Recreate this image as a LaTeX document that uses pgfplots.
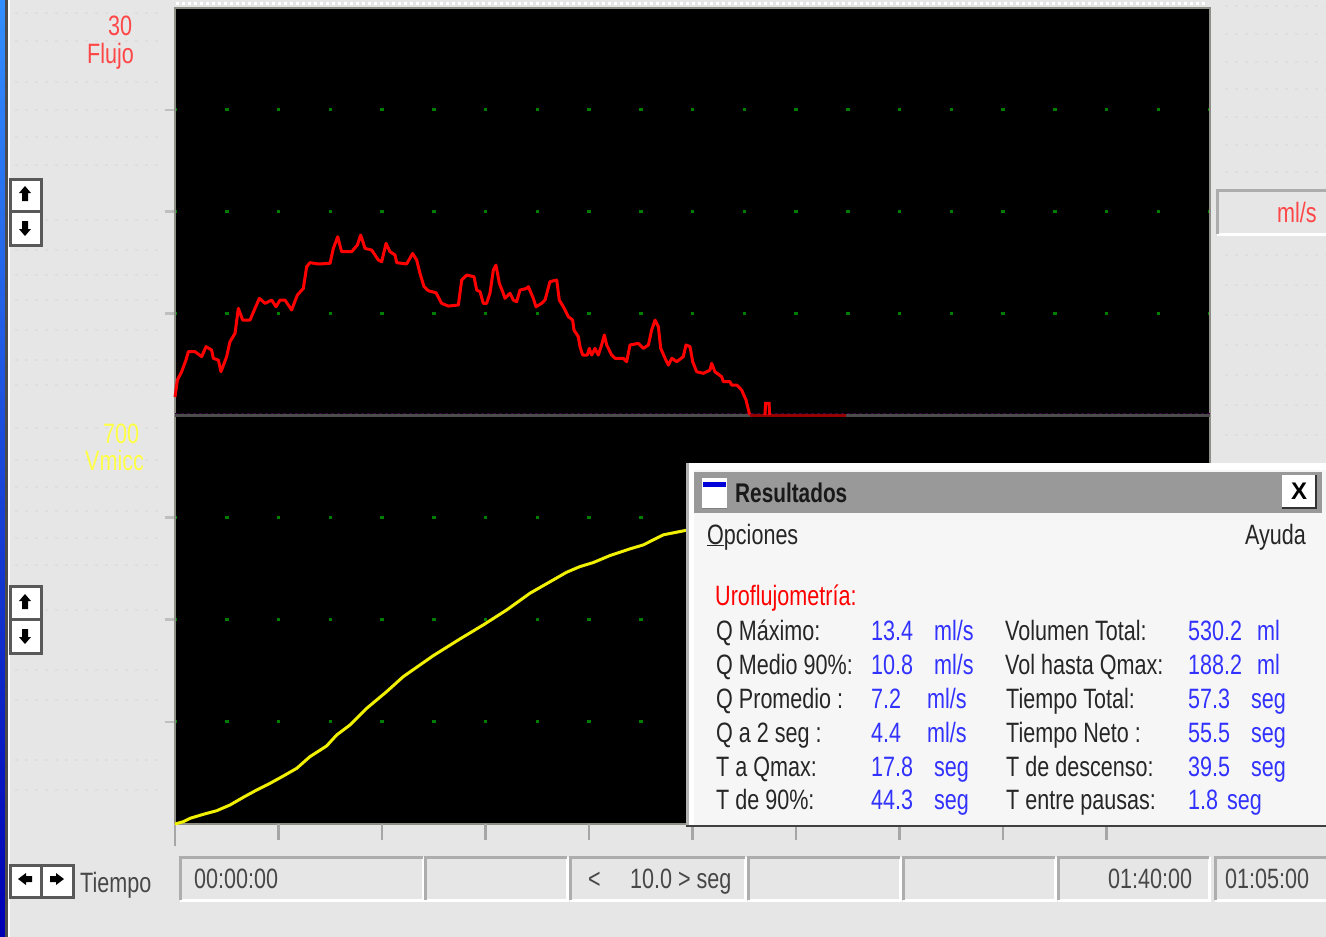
\documentclass[border=0pt]{standalone}
\usepackage{fontspec}
\usepackage{pgfplots}
\pgfplotsset{compat=1.18}
\setmainfont{Liberation Sans}
\newfontfamily\nar[FakeStretch=0.77]{Liberation Sans}
\definecolor{bg}{HTML}{E6E6E6}
\definecolor{fr}{HTML}{8E8E86}
\definecolor{dotg}{RGB}{0,125,0}
\definecolor{lblred}{RGB}{255,70,70}
\definecolor{lblyel}{RGB}{255,255,70}
\definecolor{valblue}{RGB}{50,50,255}
\definecolor{txtg}{gray}{0.28}
\definecolor{dlg}{gray}{0.965}
\newcommand{\T}[4]{\node[anchor=base west,inner sep=0pt,text=#3] at (#1pt,-#2pt) {\nar\fontsize{28}{28}\selectfont #4};}
\newcommand{\BTN}[4]{\fill[white] (#1pt,-#2pt) rectangle (#3pt,-#4pt);
 \draw[line width=3pt,color=black!65] (#1pt,-#2pt) rectangle (#3pt,-#4pt);}
\newcommand{\UP}[2]{\fill[black] (#1pt-6pt,-#2pt+1pt) -- (#1pt,-#2pt+8pt) -- (#1pt+6pt,-#2pt+1pt) -- (#1pt+3pt,-#2pt+1pt) -- (#1pt+3pt,-#2pt-7pt) -- (#1pt-3pt,-#2pt-7pt) -- (#1pt-3pt,-#2pt+1pt) -- cycle;}
\newcommand{\DN}[2]{\fill[black] (#1pt-6pt,-#2pt-1pt) -- (#1pt,-#2pt-8pt) -- (#1pt+6pt,-#2pt-1pt) -- (#1pt+3pt,-#2pt-1pt) -- (#1pt+3pt,-#2pt+7pt) -- (#1pt-3pt,-#2pt+7pt) -- (#1pt-3pt,-#2pt-1pt) -- cycle;}
\newcommand{\LF}[2]{\fill[black] (#1pt+1pt,-#2pt-6pt) -- (#1pt-7pt,-#2pt) -- (#1pt+1pt,-#2pt+6pt) -- (#1pt+1pt,-#2pt+3pt) -- (#1pt+7pt,-#2pt+3pt) -- (#1pt+7pt,-#2pt-3pt) -- (#1pt+1pt,-#2pt-3pt) -- cycle;}
\newcommand{\RT}[2]{\fill[black] (#1pt-1pt,-#2pt-6pt) -- (#1pt+7pt,-#2pt) -- (#1pt-1pt,-#2pt+6pt) -- (#1pt-1pt,-#2pt+3pt) -- (#1pt-7pt,-#2pt+3pt) -- (#1pt-7pt,-#2pt-3pt) -- (#1pt-1pt,-#2pt-3pt) -- cycle;}
\newcommand{\SUNK}[4]{\draw[line width=3pt,color=white] (#1pt,-#4pt) -- (#3pt,-#4pt) -- (#3pt,-#2pt);
 \draw[line width=3pt,color=black!32] (#1pt,-#4pt) -- (#1pt,-#2pt) -- (#3pt,-#2pt);}
\begin{document}
\begin{tikzpicture}
\useasboundingbox (0pt,-937pt) rectangle (1326pt,0pt);
% window background
\fill[bg] (0pt,-937pt) rectangle (1326pt,0pt);
% faint raster rows of the screen capture
\foreach \yy in {13,41,82,110,137,165,220,250,275,300,330,360,385,428,460,487,511,538,565,610,670,700,760,790}{
  \draw[color=black!13,line width=2pt,dash pattern=on 3pt off 7pt] (15pt,-\yy pt) -- (160pt,-\yy pt);}
\foreach \yy in {6,34,62,89,117,145,172,255,285,315,345,375,405,435}{
  \draw[color=black!13,line width=2pt,dash pattern=on 3pt off 7pt] (1225pt,-\yy pt) -- (1326pt,-\yy pt);}
\shade[top color=blue!55!cyan!80!white, bottom color=blue!70!black] (0pt,-937pt) rectangle (5pt,0pt);
\fill[black!70] (5pt,-937pt) rectangle (8pt,0pt);
\fill[white] (8pt,-937pt) rectangle (10pt,0pt);
\draw[white,line width=3pt,dash pattern=on 3pt off 3pt] (176pt,-3pt) -- (1208pt,-3pt);
% volume panel
\begin{axis}[at={(175pt,-824pt)},anchor=south west,scale only axis,width=1035pt,height=409pt,
  xmin=0,xmax=100,ymin=0,ymax=700,clip=false,
  axis background/.style={fill=black},
  axis line style={color=fr,line width=2.5pt},
  xtick=\empty,
  extra x ticks={0,10,...,90},extra x tick labels={},
  extra x tick style={major tick length=16pt,tick style={color=black!35,line width=2.5pt},grid=none},
  xtick pos=bottom,ytick pos=left,
  ytick={175,350,525},yticklabels={},
  tick align=outside,
  major tick length=10pt,
  tick style={color=black!25,line width=2.5pt},
  ymajorgrids,
  grid style={color=dotg,line width=3pt,dash pattern=on 3.5pt off 48.25pt,dash phase=1.75pt},
]
\addplot[color={rgb,255:red,240;green,240;blue,0},line width=3pt,line join=round] coordinates {
(0,0)(0.81,4)(1.45,9.7)(2.74,16.6)(4.03,22.8)(5.31,32.5)(6.6,45.7)(7.89,58.2)(9.18,69.6)(10.47,82.2)
(11.76,95.3)(13.04,115.3)(14.65,133.6)(15.62,152.4)(16.91,169.5)(18.52,198)(20.45,226.6)(22.06,252.3)
(24.96,288.2)(27.54,316.8)(29.79,340.8)(32.05,366.4)(34.3,395)(36.55,417.8)(37.84,430.9)(39.13,440.6)
(40.42,447.5)(42.03,459.5)(43.96,470.9)(45.25,477.7)(47.18,494.9)(49.28,502.3)(53,518)(57.3,530.2)(64.8,530.2)};
\end{axis}
\draw[color=black!35,line width=2.5pt] (175pt,-838pt) -- (175pt,-846pt);
% flow panel
\begin{axis}[at={(175pt,-415pt)},anchor=south west,scale only axis,width=1035pt,height=407pt,
  xmin=0,xmax=100,ymin=0,ymax=30,clip=false,
  axis background/.style={fill=black},
  axis line style={color=fr,line width=2.5pt},
  xtick=\empty,
  ytick pos=left,
  ytick={7.5,15,22.5},yticklabels={},
  tick align=outside,
  major tick length=10pt,
  tick style={color=black!25,line width=2.5pt},
  ymajorgrids,
  grid style={color=dotg,line width=3pt,dash pattern=on 3.5pt off 48.25pt,dash phase=1.75pt},
]
\addplot[color=black!70,line width=2.5pt] coordinates {(0,-0.05)(100,-0.05)};
\addplot[color={rgb,255:red,60;green,0;blue,70},line width=1.5pt,dash pattern=on 3pt off 3pt] coordinates {(0,0.1)(100,0.1)};
\addplot[color=red,line width=3pt,line join=round] coordinates {
(0,1.33)(0.23,2.58)(0.64,3.19)(1.06,4.05)(1.29,4.67)(1.93,4.67)(2.58,4.30)(3.0,5.04)(3.54,4.79)(3.70,4.18)
(4.19,4.05)(4.44,3.19)(4.99,4.30)(5.31,5.40)(5.80,6.02)(6.12,7.86)(6.54,7.0)(7.25,7.0)(7.73,7.86)(8.15,8.60)
(8.70,8.23)(9.34,8.47)(9.76,7.98)(10.14,8.47)(10.63,8.47)(11.27,7.74)(11.82,8.84)(12.40,9.33)(12.72,10.93)
(13.04,11.23)(13.85,11.13)(14.98,11.18)(15.30,12.28)(15.72,13.14)(16.10,12.04)(17.07,12.04)(17.62,12.53)
(17.94,13.26)(18.36,12.28)(19.0,12.16)(19.65,11.42)(19.97,11.30)(20.39,12.65)(20.77,12.04)(21.26,11.79)
(21.42,11.23)(22.38,11.13)(22.96,11.91)(23.35,11.42)(23.67,10.44)(24.06,9.46)(24.48,9.16)(25.22,9.01)
(25.76,8.23)(26.41,8.03)(27.38,8.11)(27.70,9.95)(28.18,10.32)(28.89,10.19)(29.15,9.21)(29.47,9.09)
(29.79,8.23)(30.11,8.23)(30.43,8.97)(30.76,10.69)(31.01,11.05)(31.34,9.70)(31.66,9.09)(31.88,8.60)
(32.37,8.97)(32.69,8.47)(33.01,8.35)(33.33,9.21)(33.98,9.33)(34.14,9.46)(34.62,8.60)(34.88,7.98)
(35.43,8.23)(35.75,8.47)(36.23,9.83)(36.88,9.95)(37.13,8.47)(37.52,7.98)(38.0,7.25)(38.42,7.0)(38.55,6.26)
(38.97,5.77)(39.13,5.04)(39.39,4.42)(39.84,4.42)(40.03,4.91)(40.26,4.42)(40.58,4.91)(40.90,4.42)(41.22,5.16)
(41.48,5.90)(41.71,5.16)(42.19,4.42)(42.51,4.18)(43.32,4.18)(43.64,3.93)(43.96,5.16)(44.77,5.28)(45.25,4.91)
(45.74,5.16)(46.05,6.26)(46.38,7.0)(46.70,6.51)(46.93,4.91)(47.35,4.18)(47.67,3.68)(48.0,4.18)(48.48,3.93)
(49.11,4.30)(49.37,5.16)(49.76,5.04)(50.02,3.93)(50.40,3.19)(51.05,3.07)(51.69,3.31)(51.85,3.81)(52.17,3.19)
(52.82,2.82)(52.98,2.46)(53.62,2.46)(53.78,2.21)(54.27,2.21)(54.75,1.84)(55.17,1.11)(55.49,0.12)(55.56,0)};
\addplot[color={rgb,255:red,150;green,0;blue,0},line width=3pt] coordinates {(55.56,0)(57.0,0)(57.45,0)(64.83,0)};
\addplot[color=red,line width=3pt] coordinates {(57.0,0)(57.06,0.85)(57.4,0.85)(57.45,0)};
\end{axis}
% axis labels left
\T{108}{35}{lblred}{30}
\T{87}{63}{lblred}{Flujo}
\T{103}{443}{lblyel}{700}
\T{85}{470}{lblyel}{Vmicc}
% spin buttons
\BTN{10}{179}{41}{211}\BTN{10}{211}{41}{245}
\UP{25}{194}\DN{25}{228}
\BTN{10}{586}{41}{619}\BTN{10}{619}{41}{653}
\UP{25}{602}\DN{25}{636}
% ml/s box
\SUNK{1217}{190}{1328}{234}
\T{1277}{222}{lblred}{ml/s}
% bottom strip
\BTN{10}{865}{41}{897}\BTN{41}{865}{73}{897}
\LF{25}{879}\RT{57}{879}
\T{80}{892}{txtg}{Tiempo}
\SUNK{180}{857}{423}{900}
\SUNK{425}{857}{567}{900}
\SUNK{570}{857}{745}{900}
\SUNK{748}{857}{900}{900}
\SUNK{903}{857}{1055}{900}
\SUNK{1058}{857}{1209}{900}
\SUNK{1215}{857}{1328}{900}
\T{194}{888}{txtg}{00:00:00}
\T{588}{888}{txtg}{<}
\T{630}{888}{txtg}{10.0 > seg}
\T{1108}{888}{txtg}{01:40:00}
\T{1225}{888}{txtg}{01:05:00}
% results dialog
\fill[dlg] (686pt,-826pt) rectangle (1326pt,-463pt);
\fill[black!75] (686pt,-827pt) rectangle (1326pt,-824.5pt);
\fill[black!30] (686pt,-825pt) rectangle (688.5pt,-463pt);
\fill[white] (688.5pt,-470pt) rectangle (1326pt,-463pt);
\fill[white] (688.5pt,-824.5pt) rectangle (694pt,-470pt);
\fill[black!40] (693.5pt,-513pt) rectangle (1322pt,-472pt);
\fill[white] (702pt,-508pt) rectangle (727pt,-478pt);
\fill[blue!85!black] (703pt,-487pt) rectangle (726pt,-482pt);
\draw[black!50,line width=1pt] (702pt,-508pt) -- (727pt,-508pt);
\fill[white] (1282pt,-507pt) rectangle (1315pt,-475pt);
\draw[black!80,line width=2pt] (1282pt,-508pt) -- (1316pt,-508pt) -- (1316pt,-475pt);
\node[anchor=center,inner sep=0pt] at (1299pt,-491pt) {\fontsize{24}{24}\selectfont\bfseries X};
\node[anchor=base west,inner sep=0pt,text=black!90] at (735pt,-502pt) {\nar\fontsize{27}{27}\selectfont\bfseries Resultados};
\T{707}{544}{black!85}{\underline{O}pciones}
\T{1245}{544}{black!85}{Ayuda}
\T{715}{605}{red}{Uroflujometría:}
\T{716}{640}{black!85}{Q Máximo:}
\T{716}{674}{black!85}{Q Medio 90\%:}
\T{716}{708}{black!85}{Q Promedio :}
\T{716}{742}{black!85}{Q a 2 seg  :}
\T{716}{776}{black!85}{T a Qmax:}
\T{716}{809}{black!85}{T de 90\%:}
\T{871}{640}{valblue}{13.4}\T{934}{640}{valblue}{ml/s}
\T{871}{674}{valblue}{10.8}\T{934}{674}{valblue}{ml/s}
\T{871}{708}{valblue}{7.2}\T{927}{708}{valblue}{ml/s}
\T{871}{742}{valblue}{4.4}\T{927}{742}{valblue}{ml/s}
\T{871}{776}{valblue}{17.8}\T{934}{776}{valblue}{seg}
\T{871}{809}{valblue}{44.3}\T{934}{809}{valblue}{seg}
\T{1005}{640}{black!85}{Volumen Total:}
\T{1005}{674}{black!85}{Vol hasta Qmax:}
\T{1006}{708}{black!85}{Tiempo Total:}
\T{1006}{742}{black!85}{Tiempo Neto :}
\T{1006}{776}{black!85}{T de descenso:}
\T{1006}{809}{black!85}{T entre pausas:}
\T{1188}{640}{valblue}{530.2}\T{1257}{640}{valblue}{ml}
\T{1188}{674}{valblue}{188.2}\T{1257}{674}{valblue}{ml}
\T{1188}{708}{valblue}{57.3}\T{1251}{708}{valblue}{seg}
\T{1188}{742}{valblue}{55.5}\T{1251}{742}{valblue}{seg}
\T{1188}{776}{valblue}{39.5}\T{1251}{776}{valblue}{seg}
\T{1188}{809}{valblue}{1.8}\T{1227}{809}{valblue}{seg}
\end{tikzpicture}
\end{document}
